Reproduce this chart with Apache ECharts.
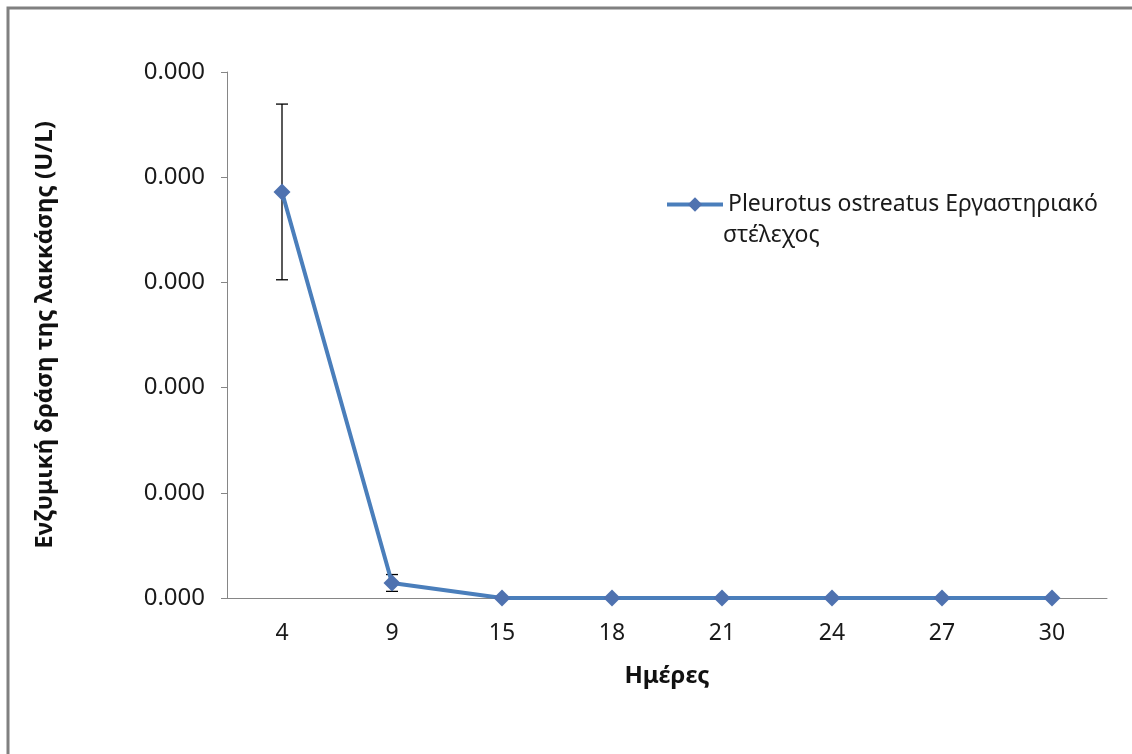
<!DOCTYPE html>
<html><head><meta charset="utf-8">
<script src="https://cdn.jsdelivr.net/npm/echarts@6/dist/echarts.min.js"></script>
<style>html,body{margin:0;padding:0;background:#fff}#c{width:1132px;height:754px}</style>
</head><body><div id="c"></div>
<script>
const days = ['4','9','15','18','21','24','27','30'];
const activity = [0.000386, 0.0000143, 0, 0, 0, 0, 0, 0];
const errors = [0.0000835, 0.000008, 0, 0, 0, 0, 0, 0];
const yTicks = {min: 0, max: 0.0005, interval: 0.0001};
const seriesName = 'Pleurotus ostreatus Εργαστηριακό';
const seriesName2 = 'στέλεχος';
const yTitle = 'Ενζυμική δράση της λακκάσης (U/L)';
const xTitle = 'Ημέρες';

const F = '"Noto Sans", sans-serif';
const chart = echarts.init(document.getElementById('c'));
chart.setOption({
  animation: false,
  backgroundColor: '#fff',
  grid: {left: 227, right: 25, top: 72, bottom: 156},
  graphic: [
    {type: 'rect', shape: {x: 8, y: 8, width: 1300, height: 900}, style: {fill: 'none', stroke: '#808080', lineWidth: 3}},
    {type: 'text', left: 723, top: 224, style: {text: seriesName2, font: '23px ' + F, fill: '#1a1a1a'}}
  ],
  legend: {
    left: 660, top: 188, itemWidth: 56, itemHeight: 18, itemGap: 4,
    textStyle: {fontFamily: F, fontSize: 23, color: '#1a1a1a'},
    lineStyle: {width: 4},
    data: [seriesName]
  },
  xAxis: {
    type: 'category', data: days, boundaryGap: true,
    axisLine: {lineStyle: {color: '#868686', width: 1}},
    axisTick: {show: false},
    axisLabel: {fontFamily: F, fontSize: 23, color: '#1a1a1a', margin: 24},
    name: xTitle, nameLocation: 'middle', nameGap: 66,
    nameTextStyle: {fontFamily: F, fontSize: 24, fontWeight: 'bold', color: '#111'}
  },
  yAxis: {
    type: 'value', min: yTicks.min, max: yTicks.max, interval: yTicks.interval,
    axisLine: {show: true, lineStyle: {color: '#868686', width: 1}},
    axisTick: {show: true, length: 6, lineStyle: {color: '#868686'}},
    splitLine: {show: false},
    axisLabel: {fontFamily: F, fontSize: 24, color: '#1a1a1a', margin: 22,
      formatter: v => (Math.floor(v * 1000 + 1e-9) / 1000).toFixed(3)},
    name: yTitle, nameLocation: 'middle', nameGap: 170, nameRotate: 90,
    nameTextStyle: {fontFamily: F, fontSize: 24, fontWeight: 'bold', color: '#111'}
  },
  series: [
    {
      name: seriesName, type: 'line', data: activity,
      symbol: 'diamond', symbolSize: 17, z: 3,
      lineStyle: {color: '#4a7ebb', width: 4},
      itemStyle: {color: '#4f72b0'}
    },
    {
      type: 'custom', z: 2, silent: true,
      data: days.map((d, i) => [i, activity[i] - errors[i], activity[i] + errors[i]]),
      renderItem: function (params, api) {
        if (api.value(2) === api.value(1)) return null;
        const lo = api.coord([api.value(0), api.value(1)]);
        const hi = api.coord([api.value(0), api.value(2)]);
        const hw = 6;
        const st = {stroke: '#000', lineWidth: 1.3};
        return {type: 'group', children: [
          {type: 'line', shape: {x1: hi[0], y1: hi[1], x2: lo[0], y2: lo[1]}, style: st},
          {type: 'line', shape: {x1: hi[0]-hw, y1: hi[1], x2: hi[0]+hw, y2: hi[1]}, style: st},
          {type: 'line', shape: {x1: lo[0]-hw, y1: lo[1], x2: lo[0]+hw, y2: lo[1]}, style: st}
        ]};
      },
      encode: {x: 0, y: [1, 2]}
    }
  ]
});
</script></body></html>
